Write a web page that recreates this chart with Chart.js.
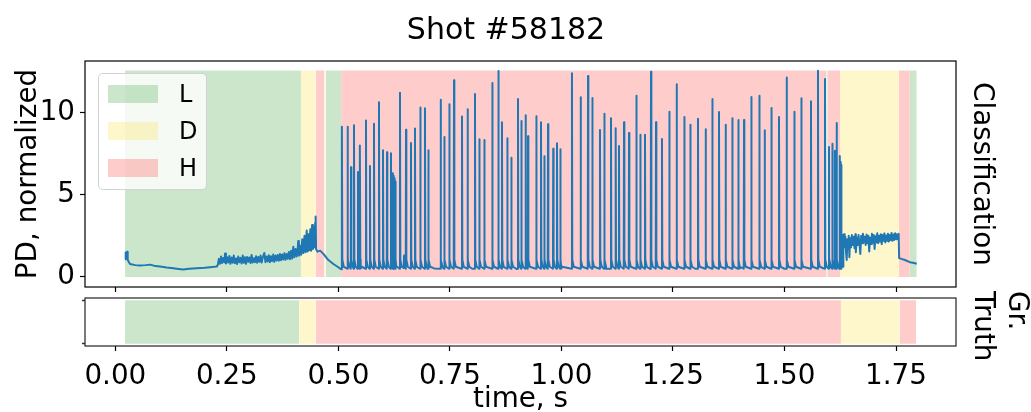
<!DOCTYPE html>
<html><head><meta charset="utf-8">
<script src="https://cdn.jsdelivr.net/npm/chart.js@4.4.0/dist/chart.umd.min.js"></script>
<style>
html,body{margin:0;padding:0;background:#fff;}
#wrap{position:relative;width:1031px;height:412px;overflow:hidden;font-family:"DejaVu Sans";}
canvas{position:absolute;left:0;}
#cTop{top:0;}
#cBot{top:287px;}
#title{position:absolute;left:0;width:1012px;top:11px;text-align:center;font-size:30px;line-height:35px;color:#000;}
#legend{position:absolute;left:98px;top:73px;width:109px;height:117px;box-sizing:border-box;border:1px solid rgba(200,200,200,0.8);border-radius:5px;background:rgba(255,255,255,0.8);}
.lp{position:absolute;left:9px;width:50px;height:18px;}
.lt{position:absolute;left:80px;font-size:24px;line-height:24px;color:#000;}
</style>
</head><body>
<div id="wrap">
<canvas id="cTop" width="1031" height="300"></canvas>
<canvas id="cBot" width="1031" height="125"></canvas>
<div id="title">Shot #58182</div>
<div id="legend"></div>
</div>
<script>
// ---------- DATA ----------
const classNames = ['L', 'D', 'H'];
const xTickValues = [0, 0.25, 0.5, 0.75, 1.0, 1.25, 1.5, 1.75];
const yTickValues = [0, 5, 10];

// classification segments [start, end, class]
const classSegments = [
  [0.0217, 0.416, 'L'], [0.416, 0.449, 'D'], [0.449, 0.4686, 'H'], [0.4686, 0.4717, 'D'],
  [0.4717, 0.506, 'L'], [0.506, 1.594, 'H'], [1.594, 1.597, 'L'], [1.597, 1.6245, 'H'],
  [1.6245, 1.7567, 'D'], [1.7567, 1.7811, 'H'], [1.7811, 1.7965, 'L']
];
// ground truth segments
const truthSegments = [
  [0.0217, 0.412, 'L'], [0.412, 0.449, 'D'], [0.449, 1.6266, 'H'],
  [1.6266, 1.758, 'D'], [1.758, 1.795, 'H']
];
const classSpanTop = 12.55;

// early trace (L-mode, dithering) [t, PD]
const earlyTrace = [
  [0.0217,1.07],[0.0232,1.48],[0.0250,1.30],[0.0262,1.54],[0.0277,1.03],[0.0329,0.79],[0.0450,0.72],
  [0.0553,0.69],[0.0680,0.72],[0.0778,0.75],[0.0900,0.66],[0.1002,0.63],[0.1150,0.57],[0.1300,0.53],
  [0.1420,0.49],[0.1524,0.45],[0.1650,0.50],[0.1823,0.53],[0.2000,0.56],[0.2123,0.59],[0.2272,0.63],
  [0.2300,0.75],[0.2320,1.10],[0.2345,0.80],[0.2370,1.25],[0.2395,0.85],[0.2420,1.15],[0.2445,0.90],
  [0.2459,1.42],[0.2480,0.82],[0.2505,1.20],[0.2530,0.88],[0.2555,1.28],[0.2580,0.80],[0.2605,1.18],
  [0.2630,0.86],[0.2655,1.30],[0.2680,0.84],[0.2705,1.12],[0.2730,0.78],[0.2755,1.24],[0.2780,0.90],
  [0.2805,1.16],[0.2830,0.82],[0.2855,1.30],[0.2880,0.86],[0.2905,1.20],[0.2930,0.80],[0.2955,1.22],
  [0.2980,0.92],[0.3005,1.18],[0.3030,0.84],[0.3055,1.34],[0.3080,0.88],[0.3105,1.14],[0.3130,0.90],
  [0.3155,1.26],[0.3180,0.86],[0.3205,1.22],[0.3230,0.92],[0.3255,1.30],[0.3280,0.88],[0.3305,1.20],
  [0.3340,1.46],[0.3365,0.90],[0.3390,1.24],[0.3415,0.94],[0.3440,1.32],[0.3465,0.90],[0.3490,1.26],
  [0.3515,0.96],[0.3540,1.36],[0.3565,0.92],[0.3590,1.30],[0.3615,1.00],[0.3640,1.34],[0.3665,0.98],
  [0.3690,1.40],[0.3715,1.02],[0.3740,1.36],[0.3765,1.06],[0.3790,1.44],[0.3815,1.04],[0.3840,1.40],
  [0.3865,1.10],[0.3890,1.52],[0.3915,1.08],[0.3940,1.60],[0.3965,1.12],[0.3990,1.84],[0.4015,1.20],
  [0.4040,1.70],[0.4065,1.25],[0.4090,1.80],[0.4100,2.19],[0.4115,1.30],[0.4140,1.90],[0.4165,1.35],
  [0.4190,2.30],[0.4215,1.45],[0.4240,2.50],[0.4265,1.50],[0.4290,2.82],[0.4310,1.55],[0.4330,2.60],
  [0.4350,1.62],[0.4370,2.90],[0.4390,1.60],[0.4410,3.16],[0.4430,1.70],[0.4450,3.00],[0.4465,1.80],
  [0.4480,3.30],[0.4490,3.67],[0.4500,1.70],[0.4529,1.54],[0.4590,1.60],[0.4660,1.42],[0.4776,1.03],
  [0.4888,0.79],[0.4999,0.59],[0.5060,0.47]
];

// H-mode baseline [t, PD]
const hBaseline = [
  [0.5500,0.52],[0.6000,0.55],[0.6465,0.55],[0.6472,1.30],[0.6485,0.62],[0.7000,0.50],[0.7150,0.52],
  [0.8000,0.50],[0.9000,0.48],[1.0000,0.52],[1.1000,0.50],[1.2000,0.48],[1.3000,0.50],[1.4000,0.52],
  [1.5000,0.50],[1.6000,0.55]
];
const hBaseLevel = 0.5;

// ELM spikes: times and peak values
const spikeTimes = [
  0.5075,0.5200,0.5277,0.5344,0.5433,0.5478,0.5613,0.5702,0.5792,0.5904,0.5994,0.6084,0.6173,0.6218,
  0.6236,0.6254,0.6272,0.6375,0.6510,0.6621,0.6711,0.6830,0.6935,0.7010,0.7286,0.7368,0.7480,0.7586,
  0.7765,0.7890,0.8056,0.8153,0.8265,0.8444,0.8580,0.8661,0.8780,0.8870,0.9020,0.9095,0.9190,0.9245,
  0.9430,0.9536,0.9610,0.9693,0.9810,0.9894,0.9969,1.0230,1.0424,1.0590,1.0686,1.0858,1.0955,1.1105,
  1.1210,1.1284,1.1397,1.1509,1.1673,1.1762,1.1867,1.2002,1.2114,1.2248,1.2412,1.2576,1.2748,1.2883,
  1.3055,1.3226,1.3376,1.3526,1.3674,1.3824,1.3959,1.4087,1.4250,1.4430,1.4549,1.4700,1.4871,1.5042,
  1.5214,1.5371,1.5588,1.5745,1.5902,1.5992,1.6066,1.6126,1.6163,1.6230,1.6250,1.6268
];
const spikePeaks = [
  9.14,9.14,6.67,9.22,6.38,8.00,9.52,6.75,9.32,10.62,7.70,7.58,7.52,6.30,
  6.15,6.00,5.80,11.20,8.95,8.15,9.02,10.30,10.25,7.70,10.78,8.51,10.50,11.96,
  9.75,10.19,11.12,8.37,8.33,11.79,12.52,9.40,8.43,7.25,10.82,9.48,9.83,8.55,
  9.77,9.40,7.34,9.28,7.80,8.13,7.76,12.38,10.92,12.22,10.88,8.94,9.93,9.65,
  9.04,7.96,9.40,8.75,11.02,8.65,8.65,12.48,9.40,8.39,10.05,11.71,9.73,9.26,
  9.62,8.98,10.82,10.03,9.26,9.65,9.54,9.54,10.94,11.02,8.92,10.27,9.73,12.12,
  10.05,10.86,10.68,12.54,12.04,7.90,8.10,7.68,9.36,7.36,7.00,6.81
];

// late trace (after H-mode, dithering) [t, PD]
const lateTrace = [
  [1.6275,2.40],[1.6290,1.60],[1.6305,2.55],[1.6320,1.90],[1.6335,2.60],[1.6350,1.80],[1.6365,2.45],
  [1.6380,1.50],[1.6395,1.03],[1.6410,2.30],[1.6425,1.70],[1.6440,2.50],[1.6455,1.20],[1.6470,2.35],
  [1.6490,1.80],[1.6510,2.55],[1.6530,1.95],[1.6550,2.45],[1.6570,1.75],[1.6590,2.60],[1.6600,1.50],
  [1.6620,2.40],[1.6640,1.95],[1.6660,2.55],[1.6680,2.00],[1.6700,1.40],[1.6720,2.50],[1.6740,2.05],
  [1.6760,2.62],[1.6780,2.10],[1.6800,2.45],[1.6820,1.95],[1.6840,2.58],[1.6860,2.05],[1.6880,2.50],
  [1.6900,1.55],[1.6920,2.40],[1.6940,2.00],[1.6960,2.62],[1.6980,2.10],[1.7000,2.55],[1.7020,1.70],
  [1.7040,2.48],[1.7060,2.10],[1.7080,2.66],[1.7100,2.05],[1.7120,2.50],[1.7140,2.15],[1.7160,2.60],
  [1.7180,2.00],[1.7200,2.55],[1.7220,2.20],[1.7240,2.65],[1.7260,2.10],[1.7280,2.52],[1.7300,2.20],
  [1.7320,2.62],[1.7340,2.15],[1.7360,2.55],[1.7380,2.25],[1.7400,2.68],[1.7420,2.20],[1.7440,2.58],
  [1.7460,2.25],[1.7480,2.66],[1.7500,2.30],[1.7520,2.60],[1.7540,2.35],[1.7560,2.62],[1.7570,1.15],
  [1.7620,1.10],[1.7700,1.03],[1.7810,0.90],[1.7880,0.86],[1.7965,0.80]
];

// ---------- BUILD ----------
const FONT = "'DejaVu Sans'";
Chart.defaults.font.family = FONT;
Chart.defaults.color = '#000';
const classColors = { L: 'rgba(0,128,0,0.2)', D: 'rgba(255,215,0,0.2)', H: 'rgba(255,0,0,0.2)' };
const X_MIN = -0.068, X_MAX = 1.8845;

const signal = [];
earlyTrace.forEach(([x, y]) => signal.push({x, y}));
hBaseline.forEach(([x, y]) => signal.push({x, y}));
spikeTimes.forEach((t, i) => {
  signal.push({x: t, y: hBaseLevel});
  signal.push({x: t + 0.0006, y: spikePeaks[i]});
  signal.push({x: t + 0.0014, y: 1.05});
  signal.push({x: t + 0.0045, y: 0.62});
});
lateTrace.forEach(([x, y]) => signal.push({x, y}));
signal.sort((a, b) => a.x - b.x);

function spanDatasets(segs, top) {
  return segs.map(([a, b, c]) => ({
    data: [{x: a, y: top}, {x: b, y: top}],
    borderColor: 'rgba(0,0,0,0)', borderWidth: 0, pointRadius: 0,
    backgroundColor: classColors[c], fill: {value: 0}, order: 1
  }));
}

const framePlugin = {
  id: 'frame',
  afterLayout(chart, args, opts) {
    if (opts.shiftRightTitle && chart.scales.y2) chart.scales.y2.top -= opts.shiftRightTitle;
  },
  afterDraw(chart, args, opts) {
    const {ctx, chartArea: {left, top, right, bottom}} = chart;
    ctx.save();
    ctx.strokeStyle = opts.color || '#000';
    ctx.lineWidth = opts.width || 1;
    ctx.strokeRect(left, top, right - left, bottom - top);
    ctx.restore();
  }
};

const setTicks = vals => s => { s.ticks = vals.map(v => ({value: v})); };
const fixSize = (w, h) => s => {
  if (w !== null) s.width = w;
  if (h !== null) s.height = h;
  s.paddingTop = 0; s.paddingBottom = 0; s.paddingLeft = 0; s.paddingRight = 0;
};

new Chart(document.getElementById('cTop'), {
  type: 'line',
  data: {
    datasets: [
      { data: signal, borderColor: '#1f77b4', borderWidth: 2, borderJoinStyle: 'round', borderCapStyle: 'butt',
        pointRadius: 0, fill: false, tension: 0, order: 0 },
      ...spanDatasets(classSegments, classSpanTop)
    ]
  },
  options: {
    responsive: false, animation: false, devicePixelRatio: 1,
    layout: { padding: { top: 61, left: 0, right: 0, bottom: 0 } },
    plugins: { legend: {display: false}, tooltip: {enabled: false}, frame: {color: '#000', width: 1.2} },
    scales: {
      x: {
        type: 'linear', min: X_MIN, max: X_MAX, position: 'bottom',
        afterBuildTicks: setTicks(xTickValues),
        ticks: { display: false },
        grid: { drawOnChartArea: false, tickLength: 5, tickColor: '#000', tickWidth: 1.2 },
        border: { display: false },
        afterFit: fixSize(null, 13)
      },
      y: {
        min: -0.61, max: 13.13, position: 'left',
        afterBuildTicks: setTicks(yTickValues),
        ticks: { color: '#000', font: {size: 27.8}, padding: 5, callback: v => String(v) },
        grid: { drawOnChartArea: false, tickLength: 5, tickColor: '#000', tickWidth: 1.2 },
        border: { display: false },
        title: { display: true, text: 'PD, normalized', color: '#000', font: {size: 27.8}, padding: {top: 12, bottom: 0} },
        afterFit: fixSize(85, null)
      },
      y2: {
        position: 'right', min: 0, max: 1,
        ticks: { display: false }, grid: { display: false }, border: { display: false },
        title: { display: true, text: 'Classification', color: '#000', font: {size: 27.8}, padding: {top: 33, bottom: 0} },
        afterFit: fixSize(75, null)
      }
    }
  },
  plugins: [framePlugin]
});

new Chart(document.getElementById('cBot'), {
  type: 'line',
  data: { datasets: spanDatasets(truthSegments, 1) },
  options: {
    responsive: false, animation: false, devicePixelRatio: 1,
    layout: { padding: { top: 11, left: 0, right: 0, bottom: 0 } },
    plugins: { legend: {display: false}, tooltip: {enabled: false}, frame: {color: '#222', width: 1.2, shiftRightTitle: 7} },
    scales: {
      x: {
        type: 'linear', min: X_MIN, max: X_MAX, position: 'bottom',
        afterBuildTicks: setTicks(xTickValues),
        ticks: { display: true, color: '#000', font: {size: 27.8}, padding: 9, maxRotation: 0, autoSkip: false, callback: v => Number(v).toFixed(2) },
        grid: { drawOnChartArea: false, tickLength: 5, tickColor: '#000', tickWidth: 1.2 },
        border: { display: false },
        title: { display: true, text: 'time, s', color: '#000', font: {size: 27.8}, padding: {top: 0, bottom: -4.7} },
        afterFit: fixSize(null, 66)
      },
      y: {
        min: -0.05, max: 1.05, position: 'left',
        afterBuildTicks: setTicks([0, 1]),
        ticks: { display: false },
        grid: { drawOnChartArea: false, tickLength: 3, tickColor: '#333', tickWidth: 1.5 },
        border: { display: false },
        afterFit: fixSize(85, null)
      },
      y2: {
        position: 'right', min: 0, max: 1,
        ticks: { display: false }, grid: { display: false }, border: { display: false },
        title: { display: true, text: ['Gr.', 'Truth'], align: 'end', color: '#000', font: {size: 27.8}, padding: {top: -1.7, bottom: 0} },
        afterFit: fixSize(75, null)
      }
    }
  },
  plugins: [framePlugin]
});

// legend (HTML overlay)
const legendEl = document.getElementById('legend');
const rowTops = [10.7, 48, 85];
classNames.forEach((c, i) => {
  const p = document.createElement('div');
  p.className = 'lp'; p.style.top = rowTops[i] + 'px'; p.style.background = classColors[c];
  legendEl.appendChild(p);
  const t = document.createElement('div');
  t.className = 'lt'; t.style.top = (rowTops[i] - 3) + 'px'; t.textContent = c;
  legendEl.appendChild(t);
});
</script>
</body></html>
